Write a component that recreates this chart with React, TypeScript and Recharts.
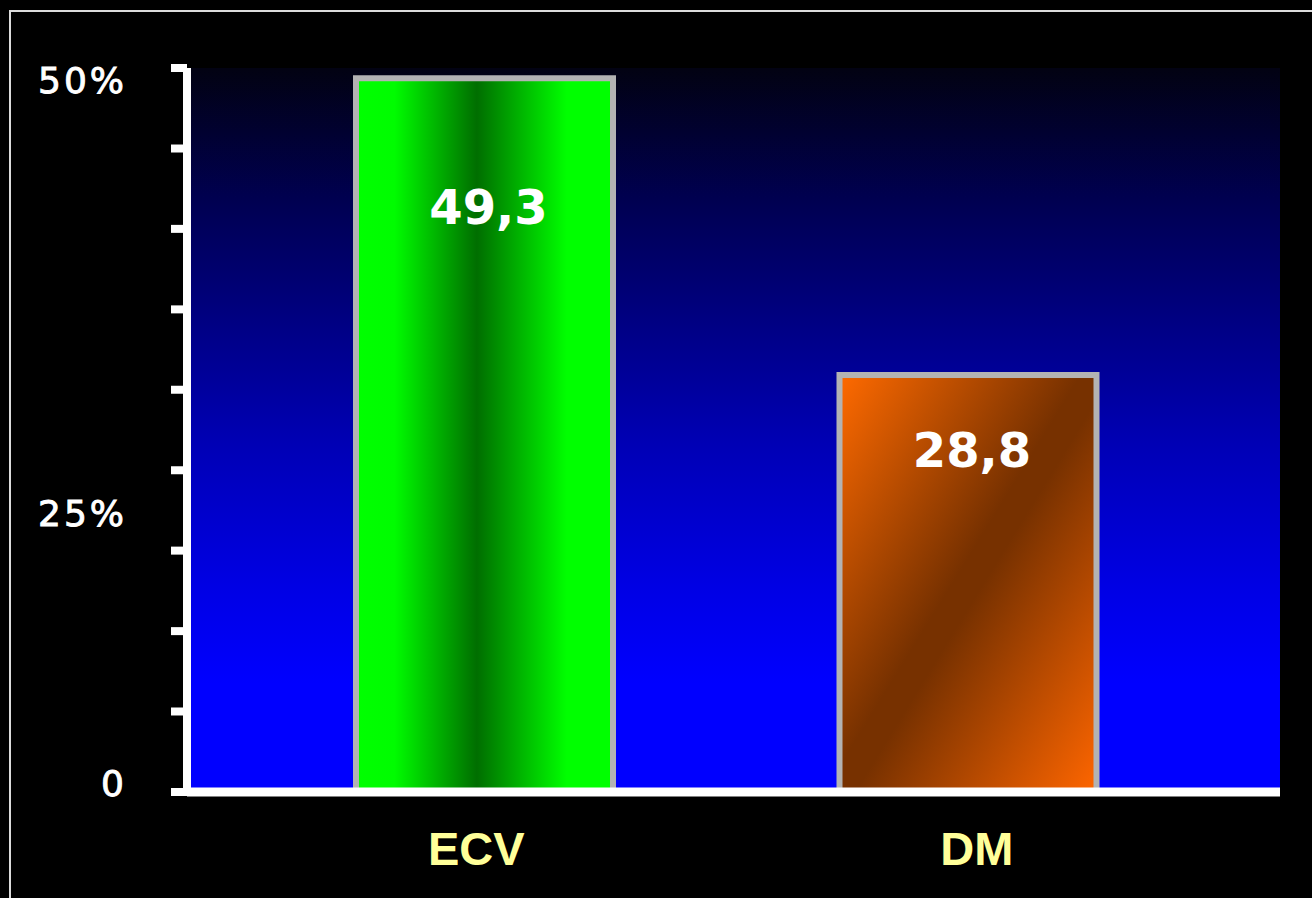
import { BarChart, Bar, XAxis, YAxis, CartesianGrid, Cell, LabelList } from 'recharts'

// categories and values
const CATEGORIES = ['ECV', 'DM']
const VALUES = [49.3, 28.8]
const VALUE_LABELS = ['49,3', '28,8']

// y axis: tick marks and the three labels (placed where they sit in the slide)
const TICK_MARKS = [0, 5.56, 11.11, 16.67, 22.22, 27.78, 33.33, 38.89, 44.44, 50]
const LABEL_VALUES = [49.17, 19.27, 0.62]
const LABEL_TEXTS = ['50%', '25%', '0']

const FILLS = ['url(#gradEcv)', 'url(#gradDm)']

const data = CATEGORIES.map((name, i) => ({ name, value: VALUES[i], label: VALUE_LABELS[i] }))

const YTick = ({ x, y, payload }: any) => {
  const v = payload.value
  const li = LABEL_VALUES.indexOf(v)
  if (li >= 0) {
    return (
      <text
        x={x - 60}
        y={y}
        dy="0.36em"
        textAnchor="end"
        fill="#ffffff"
        stroke="#ffffff"
        strokeWidth={0.9}
        fontSize={36}
        letterSpacing={3}
        fontFamily="DejaVu Sans, sans-serif"
      >
        {LABEL_TEXTS[li]}
      </text>
    )
  }
  return <line x1={x - 16} x2={x} y1={y} y2={y} stroke="#ffffff" strokeWidth={8} />
}

const XTick = ({ x, y, payload }: any) => (
  <text
    x={x}
    y={y}
    dy={72}
    textAnchor="middle"
    fill="#ffff99"
    fontSize={47}
    fontWeight="bold"
    fontFamily="Liberation Sans, Arial, sans-serif"
  >
    {payload.value}
  </text>
)

const ValueLabel = ({ x, y, width, height, index }: any) => (
  <text
    x={x + width / 2 + 4}
    y={y + height * 0.18}
    dy="0.36em"
    textAnchor="middle"
    fill="#ffffff"
    fontSize={48}
    fontWeight="bold"
    fontFamily="DejaVu Sans, sans-serif"
  >
    {VALUE_LABELS[index]}
  </text>
)

export default function App() {
  return (
    <div style={{ position: 'absolute', left: 0, top: 0, width: 1312, height: 898, background: '#000', overflow: 'hidden' }}>
      {/* slide frame */}
      <div
        style={{
          position: 'absolute',
          left: 9,
          top: 10,
          width: 1340,
          height: 920,
          border: '2px solid #dcdcdc',
        }}
      />
      <div style={{ position: 'absolute', left: 0, top: 0 }}>
        <BarChart width={1312} height={898} data={data} margin={{ top: 68, right: 32, bottom: 10, left: 0 }}>
          <defs>
            <linearGradient id="bgGrad" x1="0" y1="0" x2="0" y2="1">
              <stop offset="0%" stopColor="#020212" />
              <stop offset="18%" stopColor="#000050" />
              <stop offset="52%" stopColor="#0000b5" />
              <stop offset="72%" stopColor="#0000e5" />
              <stop offset="85%" stopColor="#0000ff" />
              <stop offset="100%" stopColor="#0000ff" />
            </linearGradient>
            <linearGradient id="gradEcv" x1="0" y1="0" x2="1" y2="0">
              <stop offset="0%" stopColor="#00ff00" />
              <stop offset="15%" stopColor="#00fc00" />
              <stop offset="47%" stopColor="#006e00" />
              <stop offset="82%" stopColor="#00ff00" />
              <stop offset="100%" stopColor="#00ff00" />
            </linearGradient>
            <linearGradient id="gradDm" x1="0" y1="0" x2="1" y2="1">
              <stop offset="0%" stopColor="#ff6a00" />
              <stop offset="47%" stopColor="#773100" />
              <stop offset="53%" stopColor="#773100" />
              <stop offset="100%" stopColor="#ff6600" />
            </linearGradient>
          </defs>
          <CartesianGrid xAxisId="bars" fill="url(#bgGrad)" stroke="none" horizontal={false} vertical={false} />
          {/* axis carrying the bars and the white base line */}
          <XAxis
            xAxisId="bars"
            dataKey="name"
            height={1}
            padding={{ left: 56, right: 70 }}
            axisLine={{ stroke: '#ffffff', strokeWidth: 9 }}
            tickLine={false}
            tick={false}
          />
          {/* category labels, spaced a bit wider than the bars as in the slide */}
          <XAxis
            xAxisId="labels"
            dataKey="name"
            height={95}
            padding={{ left: 39, right: 53 }}
            axisLine={false}
            tickLine={false}
            tickSize={0}
            tickMargin={0}
            tick={<XTick />}
          />
          <YAxis
            width={187}
            domain={[0, 50]}
            ticks={[...TICK_MARKS, ...LABEL_VALUES]}
            interval={0}
            axisLine={{ stroke: '#ffffff', strokeWidth: 8 }}
            tickLine={false}
            tickSize={0}
            tickMargin={0}
            tick={<YTick />}
          />
          <Bar xAxisId="bars" dataKey="value" barSize={257} stroke="#b3b3b3" strokeWidth={6} isAnimationActive={false}>
            {data.map((d, i) => (
              <Cell key={d.name} fill={FILLS[i]} />
            ))}
            <LabelList dataKey="label" content={<ValueLabel />} />
          </Bar>
        </BarChart>
      </div>
    </div>
  )
}
